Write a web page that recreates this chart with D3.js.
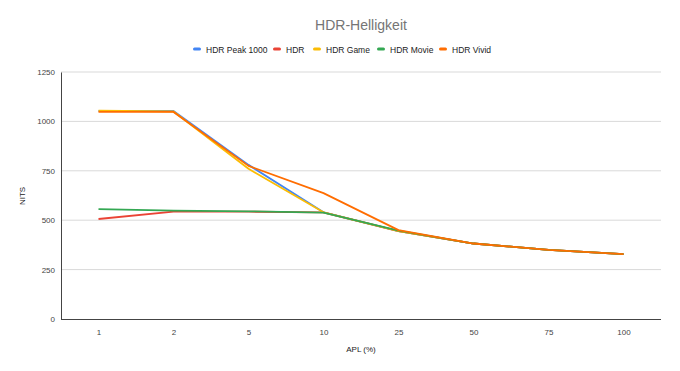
<!DOCTYPE html>
<html>
<head>
<meta charset="utf-8">
<script src="https://cdn.jsdelivr.net/npm/d3@7"></script>
<style>
  body { margin: 0; background: #fff; }
  text { font-family: Arial, "Liberation Sans", sans-serif; }
</style>
</head>
<body>
<script>
// Chart data
let apl = ["1", "2", "5", "10", "25", "50", "75", "100"];
let seriesNames = ["HDR Peak 1000", "HDR", "HDR Game", "HDR Movie", "HDR Vivid"];
let peak1000 = [1053, 1053, 780, 540, 445, 382, 350, 328];
let hdr = [506, 543, 543, 540, 445, 382, 350, 328];
let hdrGame = [1055, 1050, 760, 540, 445, 382, 350, 328];
let hdrMovie = [556, 548, 545, 538, 447, 382, 350, 328];
let hdrVivid = [1048, 1048, 775, 637, 450, 382, 350, 328];
let yTicks = [0, 250, 500, 750, 1000, 1250];
let colors = ["#4285F4", "#EA4335", "#FBBC04", "#34A853", "#FF6D01"];

let svgWidth = 680;
let svgHeight = 371;
let margin = { top: 72, right: 19, bottom: 52, left: 61 };
let chartWidth = svgWidth - margin.left - margin.right;
let chartHeight = svgHeight - margin.top - margin.bottom;

let svg = d3.select("body").append("svg")
            .attr("width", svgWidth)
            .attr("height", svgHeight);

// title
svg.append("text")
   .attr("x", 361).attr("y", 30)
   .attr("text-anchor", "middle")
   .attr("font-size", 14)
   .attr("fill", "#757575")
   .text("HDR-Helligkeit");

// legend
let legendX = [193, 273, 313, 377, 439];
seriesNames.forEach((name, i) => {
    let g = svg.append("g").attr("transform", `translate(${legendX[i]}, 49)`);
    g.append("rect").attr("x", 0).attr("y", -1.5).attr("width", 8).attr("height", 3)
     .attr("rx", 1.5).attr("fill", colors[i]);
    g.append("text").attr("x", 13).attr("y", 3.5)
     .attr("font-size", 8.5).attr("fill", "#222").text(name);
});

let chartGroup = svg.append("g")
                    .attr("transform", `translate(${margin.left}, ${margin.top})`);

let xScale = d3.scalePoint().domain(apl).range([0, chartWidth]).padding(0.5);
let yScale = d3.scaleLinear().domain([0, 1250]).range([chartHeight, 0]);

// gridlines
chartGroup.selectAll(".grid").data(yTicks.slice(1)).enter()
          .append("line")
          .attr("x1", 0).attr("x2", chartWidth)
          .attr("y1", d => yScale(d)).attr("y2", d => yScale(d))
          .attr("stroke", "#d9d9d9").attr("stroke-width", 1);

// y axis
let yAxis = d3.axisLeft(yScale).tickValues(yTicks).tickFormat(d3.format("d"))
              .tickSize(0).tickPadding(6);
chartGroup.append("g").call(yAxis)
          .call(g => g.select(".domain").attr("stroke", "#444"))
          .call(g => g.selectAll("text").attr("font-size", 8).attr("fill", "#444")
                      .attr("font-family", "Arial, sans-serif"));

// x axis
let xAxis = d3.axisBottom(xScale).tickSize(0).tickPadding(10);
chartGroup.append("g").attr("transform", `translate(0, ${chartHeight})`).call(xAxis)
          .call(g => g.select(".domain").attr("stroke", "#444").attr("d", `M0,0.5H${chartWidth}`))
          .call(g => g.selectAll("text").attr("font-size", 8).attr("fill", "#444")
                      .attr("font-family", "Arial, sans-serif"));

// axis titles
svg.append("text").attr("x", 361).attr("y", 352).attr("text-anchor", "middle")
   .attr("font-size", 8).attr("fill", "#222").text("APL (%)");
svg.append("text").attr("transform", "translate(25, 196) rotate(-90)")
   .attr("text-anchor", "middle").attr("font-size", 8).attr("fill", "#222").text("NITS");

// lines
let allSeries = [peak1000, hdr, hdrGame, hdrMovie, hdrVivid];
let line = d3.line().x((d, i) => xScale(apl[i])).y(d => yScale(d));
allSeries.forEach((values, i) => {
    chartGroup.append("path")
              .datum(values)
              .attr("d", line)
              .attr("fill", "none")
              .attr("stroke", colors[i])
              .attr("stroke-width", 1.8)
              .attr("stroke-linejoin", "round");
});
</script>
</body>
</html>
